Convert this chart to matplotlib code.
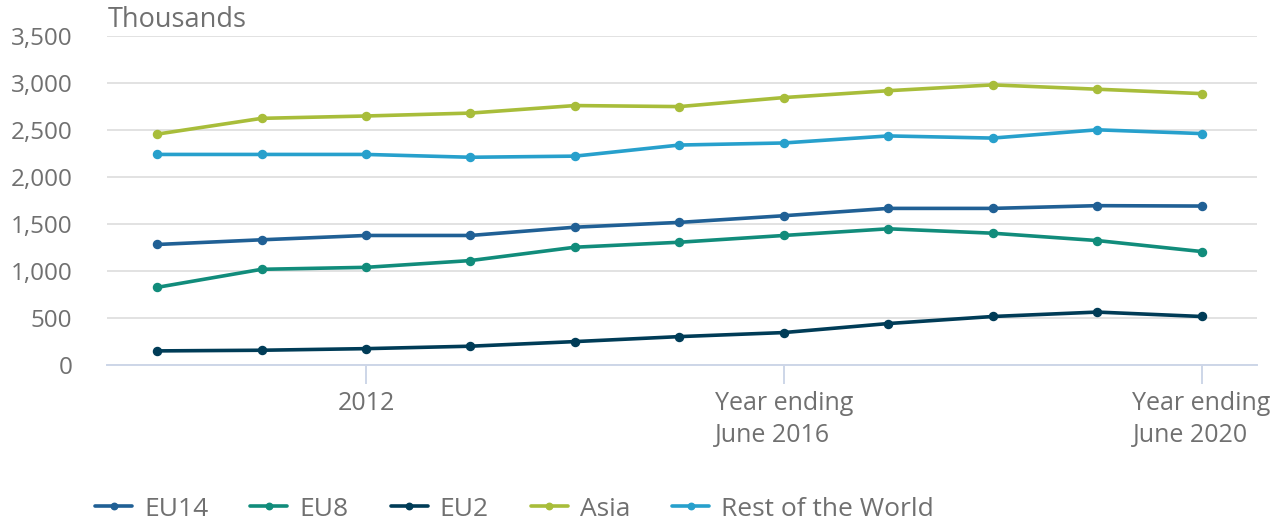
import matplotlib.pyplot as plt
from matplotlib.ticker import FuncFormatter

plt.rcParams['font.family'] = ['Open Sans', 'DejaVu Sans']

periods = list(range(11))
tick_pos = [2, 6, 10]
tick_labels = ["2012", "Year ending\nJune 2016", "Year ending\nJune 2020"]

eu14 = [1282, 1332, 1378, 1378, 1466, 1517, 1588, 1666, 1666, 1695, 1691]
eu8 = [826, 1018, 1039, 1111, 1253, 1306, 1378, 1449, 1402, 1324, 1207]
eu2 = [150, 157, 174, 200, 249, 302, 345, 441, 516, 563, 516]
asia = [2456, 2624, 2649, 2680, 2760, 2749, 2845, 2918, 2980, 2934, 2887]
rest_world = [2240, 2240, 2240, 2210, 2222, 2340, 2362, 2437, 2414, 2502, 2462]

series = [
    ("EU14", eu14, "#206095"),
    ("EU8", eu8, "#118c7b"),
    ("EU2", eu2, "#003c57"),
    ("Asia", asia, "#a8bd3a"),
    ("Rest of the World", rest_world, "#27a0cc"),
]

text_col = "#707070"

fig = plt.figure(figsize=(12.79, 5.24), dpi=100)
ax = fig.add_axes([107 / 1279, 1 - 365 / 524, 1150 / 1279, 329 / 524])

for name, vals, col in series:
    ax.plot(periods, vals, color=col, lw=2.6, marker="o", ms=5.8, label=name,
            solid_capstyle="round", zorder=3)

ax.set_ylim(0, 3500)
ax.set_xlim(-0.48, 10.53)
ax.set_yticks(range(0, 3501, 500))
ax.yaxis.set_major_formatter(FuncFormatter(lambda v, p: f"{int(v):,}"))
ax.set_xticks(tick_pos)
ax.set_xticklabels(tick_labels, linespacing=1.35, multialignment="left")

ax.grid(axis="y", color="#e2e2e2", lw=1.4, zorder=0)
for s in ["left", "right", "top"]:
    ax.spines[s].set_visible(False)
ax.spines["bottom"].set_color("#cdd6e8")
ax.spines["bottom"].set_linewidth(1.4)
ax.spines["bottom"].set_zorder(2)

ax.tick_params(axis="y", length=0, pad=25, labelsize=17.5, labelcolor=text_col)
ax.tick_params(axis="x", length=14, width=1.4, color="#cdd6e8", pad=5,
               labelsize=18, labelcolor=text_col)

fig.text(108 / 1279, 1 - 20 / 524, "Thousands", fontsize=19.5, color=text_col,
         va="center", ha="left")

leg = fig.legend(loc="center left", bbox_to_anchor=(82 / 1279, 1 - 509 / 524), ncol=5,
                 frameon=False, fontsize=19, handlelength=1.4, handletextpad=0.45,
                 columnspacing=1.6, markerscale=0.8, borderpad=0)
for t in leg.get_texts():
    t.set_color(text_col)

fig.savefig("out.png", dpi=100)
